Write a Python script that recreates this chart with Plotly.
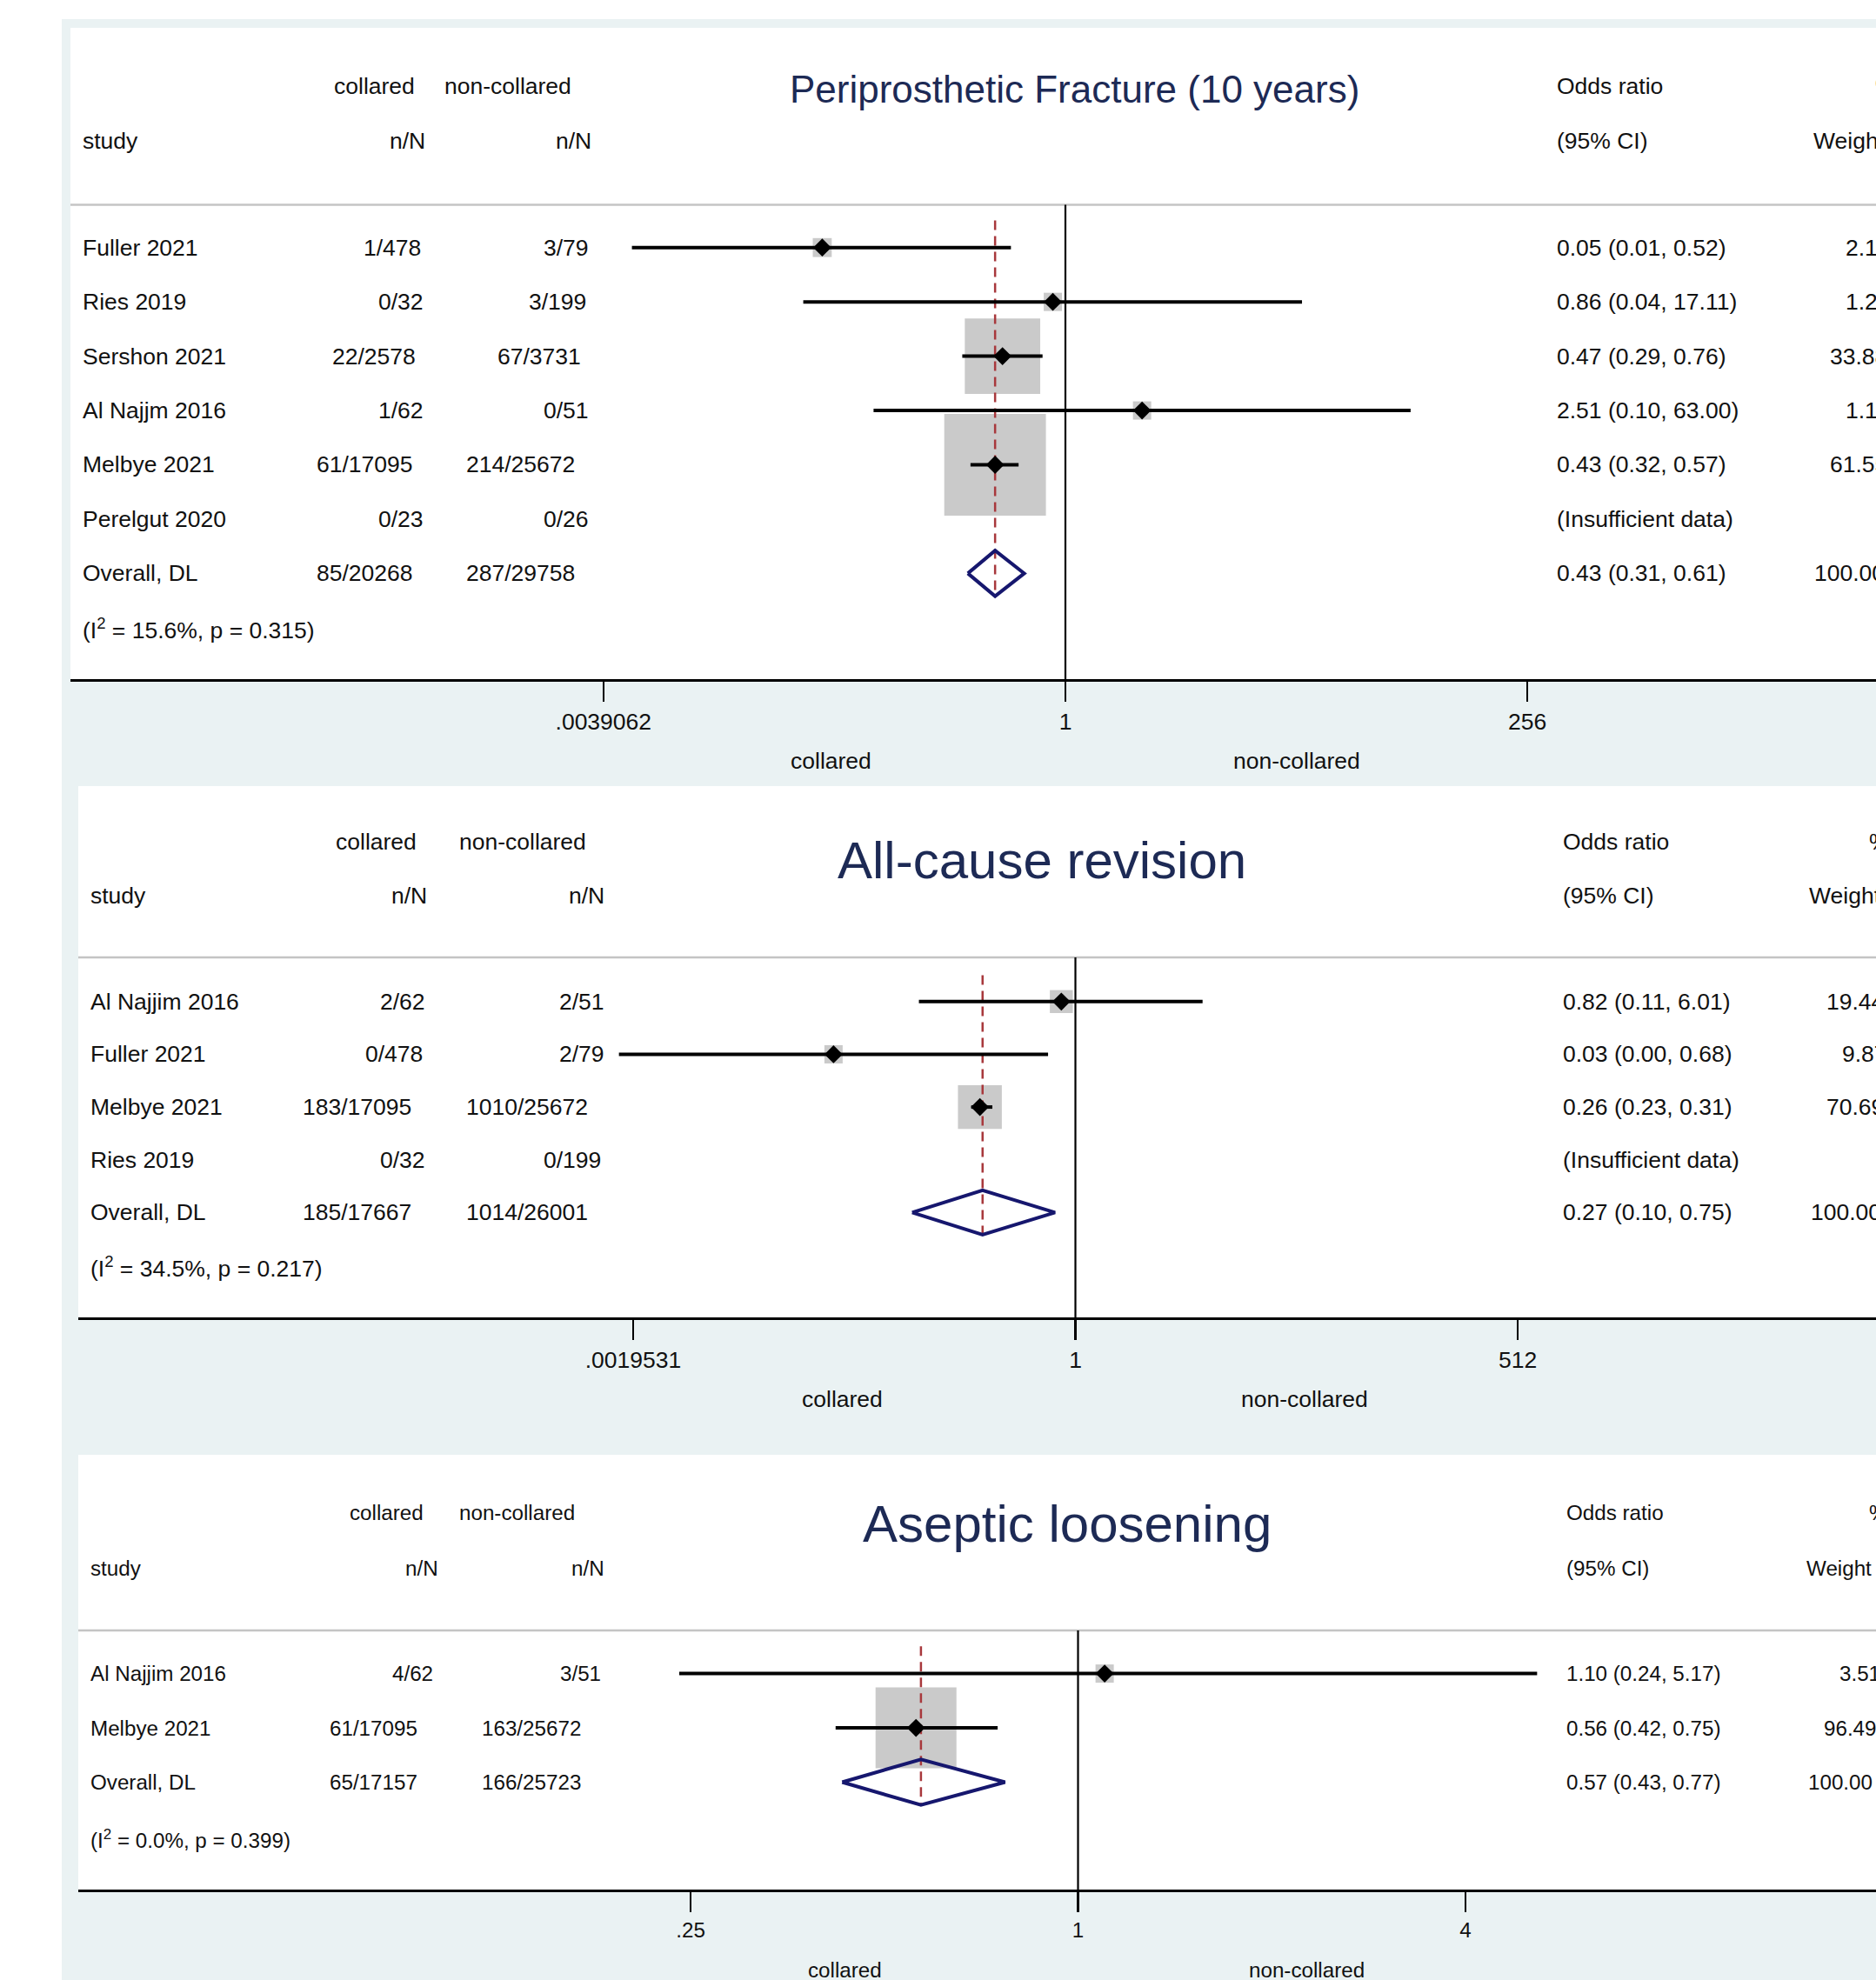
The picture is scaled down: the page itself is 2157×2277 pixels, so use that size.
import math
import plotly.graph_objects as go

# ---------------- DATA ----------------
# Panel 1: Periprosthetic Fracture (10 years)
p1_title = "Periprosthetic Fracture (10 years)"
p1_studies = ["Fuller 2021", "Ries 2019", "Sershon 2021", "Al Najjm 2016", "Melbye 2021", "Perelgut 2020"]
p1_collared = ["1/478", "0/32", "22/2578", "1/62", "61/17095", "0/23"]
p1_noncollared = ["3/79", "3/199", "67/3731", "0/51", "214/25672", "0/26"]
p1_or = [0.054, 0.86, 0.47, 2.51, 0.43, None]
p1_lo = [0.0055, 0.043, 0.29, 0.10, 0.32, None]
p1_hi = [0.52, 17.11, 0.76, 63.00, 0.57, None]
p1_es_text = ["0.05 (0.01, 0.52)", "0.86 (0.04, 17.11)", "0.47 (0.29, 0.76)",
              "2.51 (0.10, 63.00)", "0.43 (0.32, 0.57)", "(Insufficient data)"]
p1_weight = [2.14, 1.24, 33.88, 1.19, 61.55, None]
p1_overall = ["Overall, DL", "85/20268", "287/29758"]
p1_overall_or = [0.43, 0.31, 0.61]
p1_overall_text = "0.43 (0.31, 0.61)"
p1_het = "(I<sup>2</sup> = 15.6%, p = 0.315)"
p1_tickvals = [1 / 256, 1, 256]
p1_ticktext = [".0039062", "1", "256"]

# Panel 2: All-cause revision
p2_title = "All-cause revision"
p2_studies = ["Al Najjim 2016", "Fuller 2021", "Melbye 2021", "Ries 2019"]
p2_collared = ["2/62", "0/478", "183/17095", "0/32"]
p2_noncollared = ["2/51", "2/79", "1010/25672", "0/199"]
p2_or = [0.82, 0.033, 0.26, None]
p2_lo = [0.11, 0.0016, 0.23, None]
p2_hi = [6.01, 0.68, 0.31, None]
p2_es_text = ["0.82 (0.11, 6.01)", "0.03 (0.00, 0.68)", "0.26 (0.23, 0.31)", "(Insufficient data)"]
p2_weight = [19.44, 9.87, 70.69, None]
p2_overall = ["Overall, DL", "185/17667", "1014/26001"]
p2_overall_or = [0.27, 0.10, 0.75]
p2_overall_text = "0.27 (0.10, 0.75)"
p2_het = "(I<sup>2</sup> = 34.5%, p = 0.217)"
p2_tickvals = [1 / 512, 1, 512]
p2_ticktext = [".0019531", "1", "512"]

# Panel 3: Aseptic loosening
p3_title = "Aseptic loosening"
p3_studies = ["Al Najjim 2016", "Melbye 2021"]
p3_collared = ["4/62", "61/17095"]
p3_noncollared = ["3/51", "163/25672"]
p3_or = [1.10, 0.56]
p3_lo = [0.24, 0.42]
p3_hi = [5.17, 0.75]
p3_es_text = ["1.10 (0.24, 5.17)", "0.56 (0.42, 0.75)"]
p3_weight = [3.51, 96.49]
p3_overall = ["Overall, DL", "65/17157", "166/25723"]
p3_overall_or = [0.57, 0.43, 0.77]
p3_overall_text = "0.57 (0.43, 0.77)"
p3_het = "(I<sup>2</sup> = 0.0%, p = 0.399)"
p3_tickvals = [0.25, 1, 4]
p3_ticktext = [".25", "1", "4"]

favours = ["collared", "non-collared"]

# ---------------- LAYOUT / STYLE ----------------
W, H = 2157, 2277
FONT = "Liberation Sans, Arial, Helvetica, sans-serif"
TXT = "#111111"
TITLE_COL = "#1d2a55"
BG = "#EAF2F3"
BOX = "#b3b3b3"
NAVY = "#16176e"
RED = "#a8383c"

panels = [
    dict(title=p1_title, studies=p1_studies, col1=p1_collared, col2=p1_noncollared,
         orv=p1_or, lo=p1_lo, hi=p1_hi, es=p1_es_text, wt=p1_weight, ov=p1_overall,
         ovor=p1_overall_or, ovtext=p1_overall_text, het=p1_het,
         tv=p1_tickvals, tt=p1_ticktext,
         left=81, top=32, sep=235.5, axis=781, one=1225, step=66.4, row0=284.7, rowstep=62.45,
         fs=26.5, c=17.8, title_fs=44, title_x=1235, title_y=103, hdr1=99.5, hdr2=161.5,
         het_y=723, fav_y=875, fav_c=955, fav_n=1491, col1R=504.5, col2R=694.5, wR=2191,
         es_x=1788, study_x=93.3, h_coll=382, h_non=508.6, h_nN1=446, h_nN2=637,
         h_pct=2154, h_wt=2083, boxk=14.9),
    dict(title=p2_title, studies=p2_studies, col1=p2_collared, col2=p2_noncollared,
         orv=p2_or, lo=p2_lo, hi=p2_hi, es=p2_es_text, wt=p2_weight, ov=p2_overall,
         ovor=p2_overall_or, ovtext=p2_overall_text, het=p2_het,
         tv=p2_tickvals, tt=p2_ticktext,
         left=90, top=904, sep=1101, axis=1515, one=1236.5, step=56.51, row0=1151.8, rowstep=60.65,
         fs=26.5, c=17.8, title_fs=60, title_x=1198, title_y=989, hdr1=968, hdr2=1030,
         het_y=1457, fav_y=1609, fav_c=968.5, fav_n=1500, col1R=506.5, col2R=712, wR=2187,
         es_x=1794.8, study_x=101.7, h_coll=384.4, h_non=526, h_nN1=447.6, h_nN2=652.4,
         h_pct=2146.7, h_wt=2078, boxk=6.0),
    dict(title=p3_title, studies=p3_studies, col1=p3_collared, col2=p3_noncollared,
         orv=p3_or, lo=p3_lo, hi=p3_hi, es=p3_es_text, wt=p3_weight, ov=p3_overall,
         ovor=p3_overall_or, ovtext=p3_overall_text, het=p3_het,
         tv=p3_tickvals, tt=p3_ticktext,
         left=90, top=1673, sep=1875, axis=2173, one=1239.5, step=222.7, row0=1924.6, rowstep=62.45,
         fs=24.2, c=18.0, title_fs=60, title_x=1227, title_y=1752, hdr1=1739, hdr2=1803,
         het_y=2115, fav_y=2265, fav_c=971.6, fav_n=1502.5, col1R=520.6, col2R=713.9, wR=2185,
         es_x=1798.5, study_x=101.7, h_coll=399.9, h_non=526, h_nN1=463.7, h_nN2=654.5,
         h_pct=2147, h_wt=2075, boxk=9.47),
]


def PX(x):
    return x / W


def PY(y):
    return 1 - y / H


fig = go.Figure()
shapes = []
annotations = []

# white outer margins (left and top)
shapes.append(dict(type="rect", xref="paper", yref="paper", x0=0, x1=PX(71), y0=0, y1=1,
                   fillcolor="white", line_width=0, layer="below"))
shapes.append(dict(type="rect", xref="paper", yref="paper", x0=0, x1=1, y0=PY(22), y1=1,
                   fillcolor="white", line_width=0, layer="below"))


def text(x, y, s, size, anchor="left", color=TXT):
    annotations.append(dict(x=PX(x), y=PY(y), xref="paper", yref="paper", text=s,
                            showarrow=False, xanchor=anchor, yanchor="middle",
                            font=dict(family=FONT, size=size, color=color)))


def rtext(R, y, s, size, c):
    # right-justified column laid out with a fixed per-character advance
    text(R - len(s) * c, y, s, size, "left")


LOG2 = math.log10(2)

for k, p in enumerate(panels, start=1):
    sfx = "" if k == 1 else str(k)
    xa, ya = "x" + sfx, "y" + sfx
    fs = p["fs"]

    # white plot panel and header separator
    shapes.append(dict(type="rect", xref="paper", yref="paper", x0=PX(p["left"]), x1=1.01,
                       y0=PY(p["axis"]), y1=PY(p["top"]), fillcolor="white", line_width=0,
                       layer="below"))
    shapes.append(dict(type="line", xref="paper", yref="paper", x0=PX(p["left"]), x1=1.01,
                       y0=PY(p["sep"]), y1=PY(p["sep"]), line=dict(color="#c4c4c4", width=2.5),
                       layer="below"))

    # axes
    lo10 = (p["left"] - p["one"]) / p["step"] * LOG2
    hi10 = (W - p["one"]) / p["step"] * LOG2
    n = len(p["studies"])
    ov_row = n
    r_axis = (p["axis"] - p["row0"]) / p["rowstep"]
    r_sep = (p["sep"] - p["row0"]) / p["rowstep"]
    fig.layout["xaxis" + sfx] = dict(
        domain=[PX(p["left"]), 1], type="log", range=[lo10, hi10], anchor=ya,
        showline=True, linecolor="black", linewidth=3, ticks="outside", ticklen=23,
        tickwidth=2.5, tickcolor="black", tickvals=p["tv"], ticktext=p["tt"],
        tickfont=dict(family=FONT, size=fs, color=TXT), showgrid=False, zeroline=False,
        ticklabelstandoff=0, fixedrange=True)
    fig.layout["yaxis" + sfx] = dict(
        domain=[PY(p["axis"]), PY(p["sep"])], range=[r_axis, r_sep], anchor=xa,
        visible=False, showgrid=False, zeroline=False, fixedrange=True)

    # null line
    shapes.append(dict(type="line", xref=xa, yref=ya + " domain", x0=1, x1=1, y0=0, y1=1,
                       line=dict(color="black", width=2.2), layer="below"))

    idx = [i for i in range(n) if p["orv"][i] is not None]

    # weight boxes
    fig.add_trace(go.Scatter(
        x=[p["orv"][i] for i in idx], y=idx, xaxis=xa, yaxis=ya, mode="markers",
        marker=dict(symbol="square", color=BOX, line_width=0,
                    size=[max(p["boxk"] * math.sqrt(p["wt"][i]), 21) for i in idx]),
        hoverinfo="skip", showlegend=False))

    # overall effect dashed line
    fig.add_trace(go.Scatter(
        x=[p["ovor"][0], p["ovor"][0]], y=[-0.5, ov_row + 0.44], xaxis=xa, yaxis=ya,
        mode="lines", line=dict(color=RED, width=2.5, dash="11px,7px"),
        hoverinfo="skip", showlegend=False))

    # confidence intervals
    cx, cy = [], []
    for i in idx:
        cx += [p["lo"][i], p["hi"][i], None]
        cy += [i, i, None]
    fig.add_trace(go.Scatter(x=cx, y=cy, xaxis=xa, yaxis=ya, mode="lines",
                             line=dict(color="black", width=4), hoverinfo="skip",
                             showlegend=False))

    # point estimates
    fig.add_trace(go.Scatter(
        x=[p["orv"][i] for i in idx], y=idx, xaxis=xa, yaxis=ya, mode="markers",
        marker=dict(symbol="diamond", color="black", size=16, line_width=0),
        hoverinfo="skip", showlegend=False))

    # overall diamond
    o, l, h = p["ovor"]
    dh = 0.42
    fig.add_trace(go.Scatter(
        x=[l, o, h, o, l], y=[ov_row, ov_row - dh, ov_row, ov_row + dh, ov_row],
        xaxis=xa, yaxis=ya, mode="lines", line=dict(color=NAVY, width=4),
        hoverinfo="skip", showlegend=False))

    # header text
    text(p["title_x"], p["title_y"], p["title"], p["title_fs"], "center", TITLE_COL)
    text(p["h_coll"], p["hdr1"], "collared", fs)
    text(p["h_non"], p["hdr1"], "non-collared", fs)
    text(p["es_x"], p["hdr1"], "Odds ratio", fs)
    text(p["h_pct"], p["hdr1"], "%", fs)
    text(p["study_x"], p["hdr2"], "study", fs)
    text(p["h_nN1"], p["hdr2"], "n/N", fs)
    text(p["h_nN2"], p["hdr2"], "n/N", fs)
    text(p["es_x"], p["hdr2"], "(95% CI)", fs)
    text(p["h_wt"], p["hdr2"], "Weight", fs)

    # study rows
    for i in range(n):
        y = p["row0"] + i * p["rowstep"]
        text(p["study_x"], y, p["studies"][i], fs)
        rtext(p["col1R"], y, p["col1"][i], fs, p["c"])
        rtext(p["col2R"], y, p["col2"][i], fs, p["c"])
        text(p["es_x"], y, p["es"][i], fs)
        if p["wt"][i] is not None:
            rtext(p["wR"], y, f"{p['wt'][i]:.2f}", fs, p["c"])

    # overall row
    y = p["row0"] + ov_row * p["rowstep"]
    text(p["study_x"], y, p["ov"][0], fs)
    rtext(p["col1R"], y, p["ov"][1], fs, p["c"])
    rtext(p["col2R"], y, p["ov"][2], fs, p["c"])
    text(p["es_x"], y, p["ovtext"], fs)
    rtext(p["wR"], y, "100.00", fs, p["c"])
    text(p["study_x"], p["het_y"], p["het"], fs)

    # favours labels
    text(p["fav_c"], p["fav_y"], favours[0], fs, "center")
    text(p["fav_n"], p["fav_y"], favours[1], fs, "center")

fig.update_layout(
    width=W, height=H, autosize=False,
    margin=dict(l=0, r=0, t=0, b=0, pad=0),
    paper_bgcolor=BG, plot_bgcolor="rgba(0,0,0,0)",
    shapes=shapes, annotations=annotations, showlegend=False,
    font=dict(family=FONT, color=TXT),
)

fig.write_html(
    "out.html",
    config={"displayModeBar": False, "staticPlot": True},
    post_script="document.body.style.margin='0';document.body.style.padding='0';"
                "document.body.style.overflow='hidden';"
                "document.documentElement.style.overflow='hidden';",
)
